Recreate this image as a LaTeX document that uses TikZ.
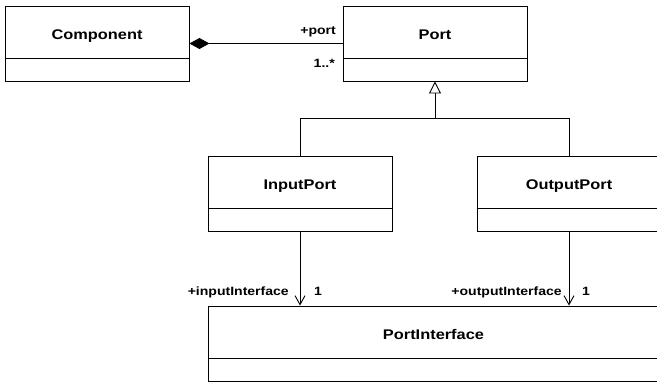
\documentclass[tikz,border=0pt]{standalone}
\usepackage{fontspec}
\setmainfont[FakeStretch=1.17]{Liberation Sans}
\usetikzlibrary{arrows.meta,calc}

\tikzset{
  umlbox/.style={draw, line width=0.9pt, inner sep=0pt, minimum height=75pt},
  umltitle/.style={font=\fontsize{14}{16}\selectfont\bfseries, inner sep=0pt, anchor=base},
  rolelabel/.style={font=\fontsize{12}{14}\selectfont\bfseries, inner sep=0pt},
  conn/.style={line width=0.9pt},
  composition/.style={conn, {Diamond[length=20pt,width=11pt]}-},
  generalization/.style={conn, -{Triangle[open, length=12pt, width=12pt, fill=white]}},
  navigable/.style={conn, -{Straight Barb[length=9pt, width=10pt]}}
}

% class box with a name compartment (53pt) and an empty attribute compartment
\newcommand\classbox[4]{%
  \node[umlbox, minimum width=#3pt] (#1) at (#2) {};
  \node[umltitle] (#1-name) at ($(#1.north)+(0,33.5)$) {#4};
  \draw[line width=0.9pt] ($(#1.north west)+(0,53)$) -- ($(#1.north east)+(0,53)$);
}

\begin{document}
\begin{tikzpicture}[x=1pt, y=-1pt]
  \useasboundingbox (0,0) rectangle (657,383);
  \clip (0,0) rectangle (657,383);

  \classbox{comp}{97,43.5}{184}{Component}
  \classbox{port}{435,43.5}{184}{Port}
  \classbox{inp}{300,193.5}{184}{InputPort}
  \classbox{outp}{569,193.5}{184}{OutputPort}
  \classbox{pif}{433.5,343.5}{451}{PortInterface}

  % composition Component <>-- Port
  \draw[composition] (comp.east) -- (port.west);
  \node[rolelabel, anchor=base east] (portrole) at (336,34) {+port};
  \node[rolelabel, anchor=base east] (portmult) at (335,67) {1..*};

  % generalization InputPort/OutputPort --|> Port
  \coordinate (branch) at (435,118);
  \draw[conn] (inp.north) |- (branch);
  \draw[conn] (outp.north) |- (branch);
  \draw[generalization] (branch) -- (port.south);

  % navigable associations to PortInterface
  \draw[navigable] (inp.south) -- (inp.south |- pif.north);
  \draw[navigable] (outp.south) -- (outp.south |- pif.north);
  \node[rolelabel, anchor=base east] (inrole) at (289,295) {+inputInterface};
  \node[rolelabel, anchor=base west] (inmult) at (314,295) {1};
  \node[rolelabel, anchor=base east] (outrole) at (562,295) {+outputInterface};
  \node[rolelabel, anchor=base west] (outmult) at (582,295) {1};
\end{tikzpicture}
\end{document}
